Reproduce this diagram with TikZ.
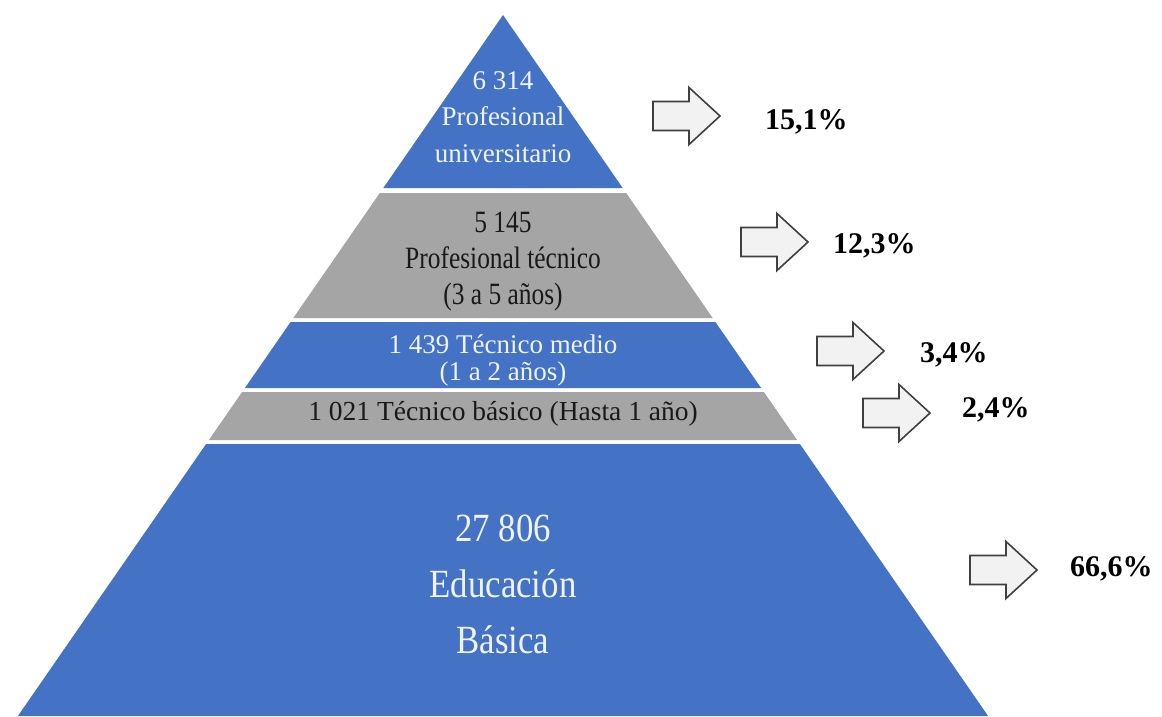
\documentclass[tikz,border=0pt]{standalone}
\usepackage{fontspec}
\setmainfont{Liberation Serif}
% narrower cuts of the serif face for the larger band labels
\newfontfamily\narrowA[FakeStretch=0.82]{Liberation Serif}
\newfontfamily\narrowB[FakeStretch=0.87]{Liberation Serif}
\begin{document}
\begin{tikzpicture}[x=1pt,y=-1pt,
  bandblue/.style={fill=pyrblue,draw=none},
  bandgray/.style={fill=pyrgray,draw=none},
  onblue/.style={text=white!92!pyrblue,align=center,inner sep=0pt},
  ongray/.style={text=black!90,align=center,inner sep=0pt},
  pct/.style={anchor=base west,inner sep=0pt,font=\fontsize{30}{34}\selectfont\bfseries},
  arrowshape/.style={fill=arrowfill,draw=arrowline,line width=1.6pt,line join=miter},
  rarrow/.pic={\draw[arrowshape] (0,-14.5) -- (36,-14.5) -- (36,-28.5) -- (67,0)
      -- (36,28.5) -- (36,14.5) -- (0,14.5) -- cycle;}]
\definecolor{pyrblue}{HTML}{4472C4}
\definecolor{pyrgray}{HTML}{A5A5A5}
\definecolor{arrowfill}{HTML}{F2F2F2}
\definecolor{arrowline}{HTML}{404040}
\useasboundingbox (0,0) rectangle (1162,716);
\fill[white] (0,0) rectangle (1162,716);

% pyramid bands (apex at (503,15), half width 0.692 per unit of height)
\fill[bandblue] (503,15) -- (622.7,188) -- (383.3,188) -- cycle;
\fill[bandgray] (379.8,193) -- (626.2,193) -- (712.7,318) -- (293.3,318) -- cycle;
\fill[bandblue] (290.6,322) -- (715.4,322) -- (761.1,388) -- (244.9,388) -- cycle;
\fill[bandgray] (242.1,392) -- (763.9,392) -- (797.1,440) -- (208.9,440) -- cycle;
\fill[bandblue] (206.1,444) -- (799.9,444) -- (988.1,716) -- (17.9,716) -- cycle;

% band labels
\node[onblue,font=\fontsize{27}{36.5}\selectfont] (univ) at (503,117)
  {6 314\\Profesional\\universitario};
\node[ongray,font=\narrowA\fontsize{31}{36}\selectfont] (ptec) at (503,262)
  {5 145\\Profesional técnico\\(3 a 5 años)};
\node[onblue,font=\fontsize{27}{27}\selectfont] (tmed) at (503,360)
  {1 439 Técnico medio\\(1 a 2 años)};
\node[ongray,font=\fontsize{27.5}{30}\selectfont] (tbas) at (503,414)
  {1 021 Técnico básico (Hasta 1 año)};
\node[onblue,font=\narrowB\fontsize{40}{56}\selectfont] (ebas) at (503,584)
  {27 806\\Educación\\Básica};

% arrows and shares
\pic at (653,116) {rarrow};
\pic at (741,242) {rarrow};
\pic at (817,351) {rarrow};
\pic at (863,413) {rarrow};
\pic at (970,570) {rarrow};
\node[pct] (p1) at (765,129) {15,1\%};
\node[pct] (p2) at (833,253) {12,3\%};
\node[pct] (p3) at (920,362) {3,4\%};
\node[pct] (p4) at (962,417) {2,4\%};
\node[pct] (p5) at (1070,576) {66,6\%};
\end{tikzpicture}
\end{document}
